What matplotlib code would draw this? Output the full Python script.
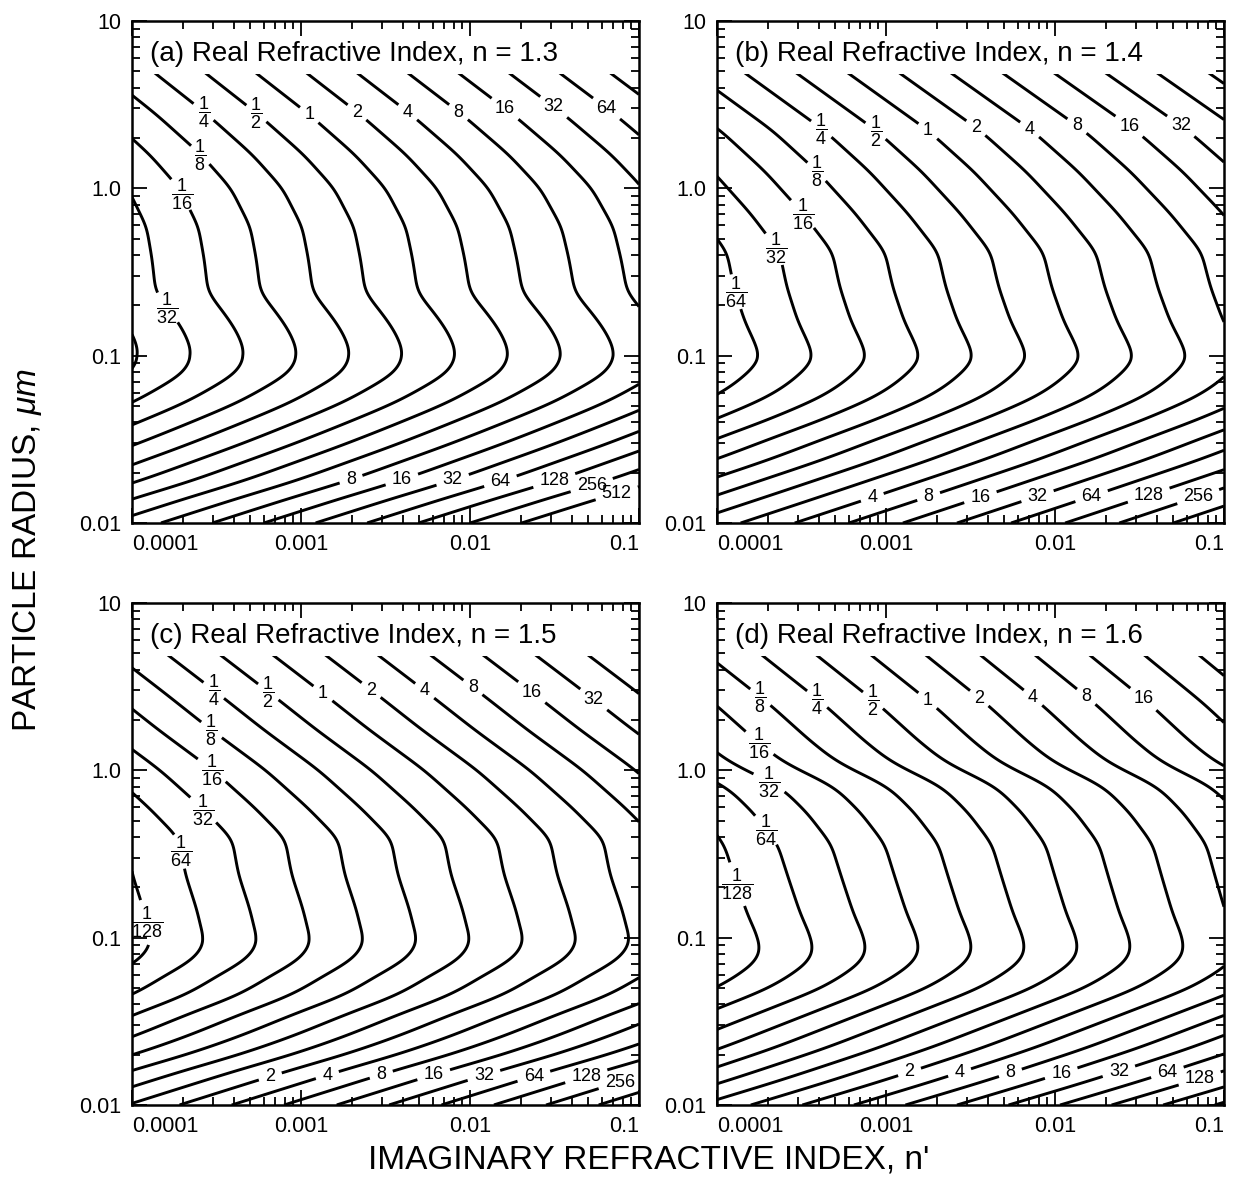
import numpy as np
import matplotlib
matplotlib.use("Agg")
import matplotlib.pyplot as plt
from matplotlib.patches import Rectangle
from matplotlib.ticker import FixedLocator, LogLocator, NullFormatter

plt.rcParams['font.family'] = ['Liberation Sans', 'DejaVu Sans']
plt.rcParams['mathtext.fontset'] = 'custom'
plt.rcParams['mathtext.rm'] = 'Liberation Sans'
plt.rcParams['mathtext.it'] = 'Liberation Sans:italic'

# contour levels, as log2 of the plotted quantity (1/128 ... 512)
levels = list(range(-7, 10))

# For each panel: the "1" contour, as log10 n' at a set of
# log10 radius (um) values, plus the spacing (decades of n') between two
# neighbouring contours at r = 0.01, 0.1 and 10 um.
n_real = [1.3, 1.4, 1.5, 1.6]

logr_a = [-2.0, -1.85, -1.75, -1.64, -1.53, -1.41, -1.28, -1.18, -1.1, -1.0,
          -0.9, -0.8, -0.62, -0.42, -0.23, 0.0, 0.2, 0.44, 0.7, 1.0]
logk_a = [-4.44, -3.98, -3.65, -3.35, -3.05, -2.75, -2.44, -2.26, -2.13, -2.08,
          -2.11, -2.17, -2.31, -2.34, -2.38, -2.50, -2.68, -2.95, -3.28, -3.65]
step_a = [0.305, 0.313, 0.297]

logr_b = [-2.0, -1.83, -1.62, -1.5, -1.38, -1.25, -1.15, -1.03, -0.95, -0.79,
          -0.59, -0.38, -0.15, 0.1, 0.345, 0.7, 1.0]
logk_b = [-4.18, -3.67, -3.05, -2.74, -2.42, -2.12, -1.97, -1.85, -1.87, -1.95,
          -2.02, -2.07, -2.25, -2.48, -2.75, -3.24, -3.65]
step_b = [0.32, 0.316, 0.303]

logr_c = [-2.0, -1.89, -1.79, -1.70, -1.59, -1.46, -1.34, -1.22, -1.13, -1.03,
          -0.83, -0.62, -0.41, -0.225, 0.0, 0.245, 0.46, 0.7, 1.0]
logk_c = [-4.03, -3.685, -3.37, -3.055, -2.74, -2.425, -2.11, -1.91, -1.75, -1.68,
          -1.73, -1.80, -1.84, -2.02, -2.27, -2.60, -2.87, -3.18, -3.57]
step_c = [0.31, 0.315, 0.31]

logr_d = [-2.0, -1.85, -1.75, -1.66, -1.535, -1.414, -1.30, -1.17, -1.09, -1.0,
          -0.85, -0.65, -0.44, -0.25, -0.1, 0.05, 0.17, 0.40, 0.65, 1.0]
logk_d = [-3.80, -3.31, -3.01, -2.74, -2.42, -2.11, -1.82, -1.61, -1.55, -1.56,
          -1.62, -1.68, -1.74, -1.88, -2.03, -2.33, -2.48, -2.73, -3.04, -3.47]
step_d = [0.305, 0.314, 0.325]

# contour labels: (level, log10 n', log10 r)
labels_a = [(-2, -3.59, 0.44), (-1, -3.27, 0.44), (0, -2.95, 0.44), (1, -2.68, 0.44),
            (2, -2.38, 0.44), (3, -2.08, 0.44), (4, -1.82, 0.44), (5, -1.54, 0.44),
            (6, -1.22, 0.44), (-3, -3.59, 0.206), (-4, -3.70, -0.03), (-5, -3.80, -0.72),
            (3, -2.70, -1.75), (4, -2.40, -1.75), (5, -2.10, -1.75), (6, -1.82, -1.75),
            (7, -1.50, -1.75), (8, -1.29, -1.74), (9, -1.10, -1.93)]
labels_b = [(-2, -3.39, 0.345), (-1, -3.06, 0.345), (0, -2.75, 0.345), (1, -2.48, 0.345),
            (2, -2.155, 0.345), (3, -1.89, 0.345), (4, -1.58, 0.345), (5, -1.275, 0.345),
            (-3, -3.41, 0.10), (-4, -3.49, -0.15), (-5, -3.63, -0.345), (-6, -3.86, -0.61),
            (2, -3.08, -1.85), (3, -2.745, -1.85), (4, -2.44, -1.85), (5, -2.10, -1.85),
            (6, -1.78, -1.85), (7, -1.44, -1.85), (8, -1.15, -1.85)]
labels_c = [(-2, -3.53, 0.46), (-1, -3.20, 0.46), (0, -2.87, 0.46), (1, -2.60, 0.46),
            (2, -2.28, 0.46), (3, -2.01, 0.46), (4, -1.64, 0.46), (5, -1.24, 0.46),
            (-3, -3.527, 0.245), (-4, -3.52, 0.01), (-5, -3.567, -0.225), (-6, -3.70, -0.48),
            (-7, -3.88, -0.90),
            (1, -3.18, -1.835), (2, -2.84, -1.835), (3, -2.52, -1.835), (4, -2.21, -1.835),
            (5, -1.914, -1.835), (6, -1.62, -1.835), (7, -1.31, -1.835), (8, -1.11, -1.876)]
labels_d = [(-3, -3.765, 0.41), (-2, -3.42, 0.41), (-1, -3.084, 0.41), (0, -2.76, 0.41),
            (1, -2.465, 0.41), (2, -2.15, 0.41), (3, -1.84, 0.41), (4, -1.49, 0.41),
            (-4, -3.765, 0.143), (-5, -3.70, -0.09), (-6, -3.71, -0.357), (-7, -3.85, -0.67),
            (1, -2.855, -1.82), (2, -2.56, -1.82), (3, -2.26, -1.82), (4, -1.96, -1.82),
            (5, -1.615, -1.82), (6, -1.33, -1.82), (7, -1.135, -1.87)]

tags = ['(a)', '(b)', '(c)', '(d)']
x_ticks = [1e-4, 1e-3, 1e-2, 1e-1]
x_ticklabels = ['0.0001', '0.001', '0.01', '0.1']
y_ticks = [0.01, 0.1, 1.0, 10.0]
y_ticklabels = ['0.01', '0.1', '1.0', '10']


def smooth(a, w):
    padded = np.pad(a, w, mode='reflect', reflect_type='odd')
    return np.convolve(padded, np.ones(2 * w + 1) / (2 * w + 1), mode='valid')


def make_field(logr, logk, step):
    v = np.linspace(-2, 1, 601)
    u = np.linspace(-4, -1, 601)
    k1 = np.interp(v, logr, logk)
    k1 = smooth(smooth(k1, 9), 9)
    s = np.interp(v, [-2, -1, 1], step)
    z = (u[None, :] - k1[:, None]) / s[:, None]
    return 10 ** u, 10 ** v, z


def fmt_level(k):
    if k >= 0:
        return str(2 ** k)
    return r'$\dfrac{1}{%d}$' % (2 ** -k)


fig = plt.figure(figsize=(12.36, 11.96), dpi=100)

col_left = [132 / 1236, 717 / 1236]
row_bottom = [1 - 523 / 1196, 1 - 1105 / 1196]
w_ax, h_ax = 507 / 1236, 502 / 1196

panels = [(logr_a, logk_a, step_a, labels_a), (logr_b, logk_b, step_b, labels_b),
          (logr_c, logk_c, step_c, labels_c), (logr_d, logk_d, step_d, labels_d)]

for i, (logr, logk, step, labs) in enumerate(panels):
    ax = fig.add_axes([col_left[i % 2], row_bottom[i // 2], w_ax, h_ax])
    x, y, z = make_field(logr, logk, step)
    ax.set_xscale('log')
    ax.set_yscale('log')
    ax.set_xlim(1e-4, 0.1)
    ax.set_ylim(0.01, 10)

    # one contour set per level, so each level's labels land on its own line
    for lev in levels:
        cs = ax.contour(x, y, z, levels=[lev], colors='k', linewidths=2.1,
                        linestyles='solid', zorder=1)
        pos = [(10 ** lu, 10 ** lr) for l, lu, lr in labs if l == lev]
        if pos:
            cs.clabel(manual=pos, fmt={lev: fmt_level(lev)}, fontsize=13,
                      inline=True, inline_spacing=7)
            for t in cs.labelTexts:
                t.set_rotation(0)

    # blank band under the panel title
    ax.add_patch(Rectangle((0, 0.895), 1, 0.105, transform=ax.transAxes,
                           facecolor='white', edgecolor='none', zorder=1.2))
    ax.text(0.035, 0.935, '%s Real Refractive Index, n = %.1f' % (tags[i], n_real[i]),
            transform=ax.transAxes, fontsize=20, va='center', ha='left', zorder=3)

    ax.xaxis.set_major_locator(FixedLocator(x_ticks))
    ax.set_xticklabels(x_ticklabels)
    ax.xaxis.set_minor_locator(LogLocator(base=10, subs=np.arange(2, 10)))
    ax.xaxis.set_minor_formatter(NullFormatter())
    ax.yaxis.set_major_locator(FixedLocator(y_ticks))
    ax.set_yticklabels(y_ticklabels)
    ax.yaxis.set_minor_locator(LogLocator(base=10, subs=np.arange(2, 10)))
    ax.yaxis.set_minor_formatter(NullFormatter())
    ax.tick_params(which='both', direction='in', top=True, right=True, width=1.3,
                   labelsize=15.5, pad=8)
    ax.tick_params(which='major', length=11)
    ax.tick_params(which='minor', length=6)
    xl = ax.get_xticklabels()
    xl[0].set_ha('left')
    xl[-1].set_ha('right')
    for sp in ax.spines.values():
        sp.set_linewidth(1.8)

fig.text(0.022, 0.54, r'PARTICLE RADIUS, $\mu m$', rotation=90, fontsize=24,
         ha='center', va='center')
fig.text(0.525, 0.03, "IMAGINARY REFRACTIVE INDEX, n'", fontsize=24,
         ha='center', va='center')

fig.savefig('out.png', dpi=100)
